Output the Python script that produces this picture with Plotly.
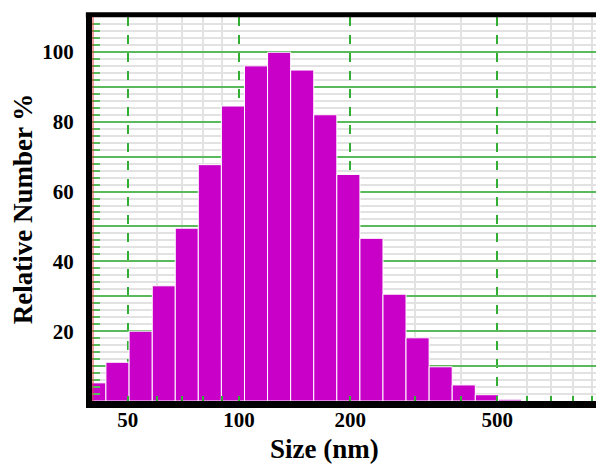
import numpy as np
import plotly.graph_objects as go

# Data (bin centre sizes in nm, relative number %)
size_nm = [40.6, 46.9, 54.2, 62.6, 72.2, 83.4, 96.3, 111.2, 128.4, 148.3,
           171.2, 197.7, 228.3, 263.5, 304.3, 351.4, 405.7, 468.6, 541.1]
rel_number = [5.2, 11.1, 20.0, 33.0, 49.5, 67.7, 84.5, 96.0, 99.9, 94.8,
              82.0, 64.9, 46.6, 30.6, 18.1, 9.8, 4.6, 1.8, 0.5]

x_major_ticks = [50, 100, 200, 500]
x_major_labels = ["50", "100", "200", "500"]
x_minor_ticks = [60, 70, 80, 90, 300, 400, 600, 700, 800, 900]
y_major_ticks = [10, 20, 30, 40, 50, 60, 70, 80, 90, 100]
y_major_labels = ["", "20", "", "40", "", "60", "", "80", "", "100"]

# bin edges (geometric) from centres
logc = np.log10(np.array(size_nm))
half = np.diff(logc).mean() / 2
edges = 10 ** np.concatenate([[logc[0] - half], (logc[:-1] + logc[1:]) / 2, [logc[-1] + half]])
left, right = edges[:-1], edges[1:]

FONT = "Liberation Serif"
GREEN = "rgb(90,185,90)"
GREEN_V = "rgb(50,175,50)"
GRAY = "#e2e2e2"

fig = go.Figure()
fig.add_bar(x=(left + right) / 2, y=rel_number, width=right - left,
            marker=dict(color="#c800c8", line=dict(color="white", width=1)),
            hoverinfo="x+y")

# page body has an 8px margin, so the figure is 8px smaller and offsets are compensated
fig.update_layout(
    width=596, height=456,
    margin=dict(l=84, r=0, t=9, b=63, autoexpand=False),
    plot_bgcolor="white", paper_bgcolor="white",
    showlegend=False,
    font=dict(family=FONT, color="black"),
)

fig.update_xaxes(
    type="log", range=[1.6022, 2.9878], automargin=False,
    tickmode="array", tickvals=x_major_ticks, ticktext=x_major_labels,
    showgrid=True, gridcolor=GREEN_V, gridwidth=1.5, griddash="dash",
    ticks="inside", ticklen=5, tickcolor=GREEN_V, tickwidth=1.5,
    minor=dict(tickvals=x_minor_ticks, showgrid=True, gridcolor=GRAY, gridwidth=1.5,
               griddash="solid", ticks="inside", ticklen=5, tickcolor=GREEN_V),
    showline=True, linecolor="black", linewidth=7,
    zeroline=False,
    tickfont=dict(family=FONT, size=21, weight="bold", color="black"),
    ticklabelstandoff=-6,
)

fig.update_yaxes(
    range=[0, 110], automargin=False,
    tickmode="array", tickvals=y_major_ticks, ticktext=y_major_labels,
    showgrid=True, gridcolor=GREEN, gridwidth=1.5,
    ticks="inside", ticklen=8, tickcolor=GREEN, tickwidth=1.5,
    minor=dict(dtick=2, showgrid=True, gridcolor=GRAY, gridwidth=1.5, griddash="solid",
               ticks="inside", ticklen=8, tickcolor=GREEN),
    showline=True, linecolor="black", linewidth=6,
    zeroline=False,
    tickfont=dict(family=FONT, size=21, weight="bold", color="black"),
    ticklabelstandoff=8,
    title=dict(text="Relative Number %", font=dict(family=FONT, size=27, weight="bold", color="black"),
               standoff=7),
)

# x-axis title (placed slightly left of the plot centre, as in the original)
fig.add_annotation(text="Size (nm)", xref="paper", yref="paper", x=0.455, y=-0.126,
                   xanchor="center", yanchor="middle", showarrow=False, borderpad=0,
                   font=dict(family=FONT, size=27, weight="bold", color="black"))

# top frame line and thin red edge line
fig.add_shape(type="line", xref="paper", yref="paper", x0=-0.012, x1=1, y0=1.006, y1=1.006,
              line=dict(color="black", width=5))
fig.add_shape(type="line", xref="paper", yref="paper", x0=0.002, x1=0.002, y0=0, y1=1,
              line=dict(color="#e04040", width=1))

fig.write_html("out.html")
